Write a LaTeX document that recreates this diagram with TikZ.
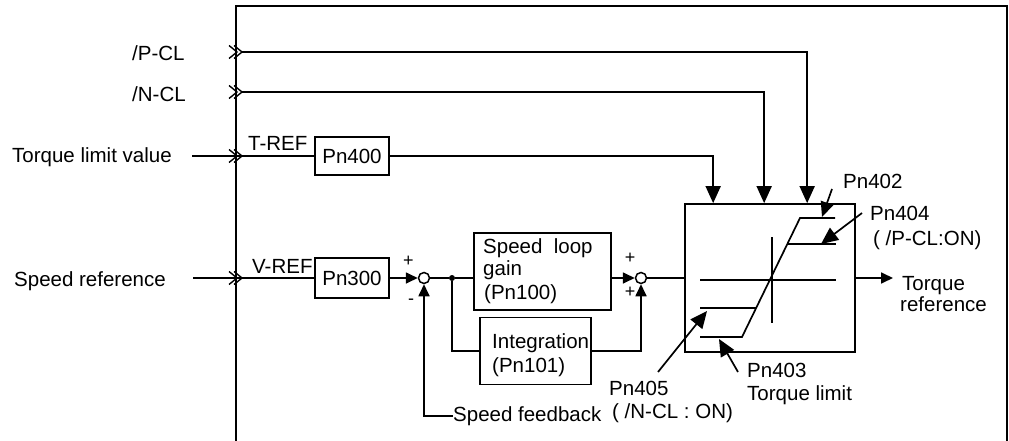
\documentclass[tikz,border=0pt]{standalone}
\usepackage{fontspec}
\setmainfont{Liberation Sans}
\usetikzlibrary{arrows.meta}
\begin{document}
\begin{tikzpicture}[x=1pt,y=-1pt,
  every node/.style={font=\fontsize{20.5}{23}\selectfont},
  ln/.style={line width=1.7pt},
  blk/.style={draw,line width=1.7pt,inner sep=0pt},
  lbl/.style={inner sep=0pt},
  arrS/.style={ln,-{Triangle[length=12pt,width=11pt]}},
  arrM/.style={ln,-{Triangle[length=15pt,width=13pt]}},
  arrL/.style={ln,-{Triangle[length=17pt,width=15pt]}},
  sumnode/.style={draw,circle,line width=1.5pt,minimum size=11pt,inner sep=0pt},
  chev/.style={line width=1.4pt},
  sgn/.style={inner sep=0pt,font=\fontsize{18}{18}\selectfont},
  dchev/.pic={\draw[chev] (-8,-6.5)--(0,0)--(-8,6.5); \draw[chev] (-3,-6.5)--(5,0)--(-3,6.5);}]
\useasboundingbox (0,0) rectangle (1009,441);

% frame
\draw[ln] (236,441) -- (236,6) -- (1007,6) -- (1007,441);

% blocks
\node[blk,minimum width=74pt,minimum height=38pt] (pn400) at (352,156) {Pn400};
\node[blk,minimum width=74pt,minimum height=40pt] (pn300) at (352,278) {Pn300};
\node[sumnode] (sum1) at (424,278) {};
\node[circle,fill,inner sep=0pt,minimum size=6pt] (dot) at (452,278) {};
\node[blk,minimum width=137pt,minimum height=77pt] (gain) at (542.5,271.5) {};
\node[blk,minimum width=111pt,minimum height=67pt] (integ) at (535.5,351) {};
\node[sumnode] (sum2) at (641,278) {};
\node[blk,minimum width=170pt,minimum height=148pt] (lim) at (770,278) {};

% texts in blocks
\node[lbl,anchor=base west] (g1) at (483,253) {Speed\ \ loop};
\node[lbl,anchor=base west] (g2) at (483,275) {gain};
\node[lbl,anchor=base west] (g3) at (484,299) {(Pn100)};
\node[lbl,anchor=base west] (i1) at (492,348) {Integration};
\node[lbl,anchor=base west] (i2) at (492,372) {(Pn101)};

% left labels
\node[lbl,anchor=base west] (pcl) at (132,61) {/P-CL};
\node[lbl,anchor=base west] (ncl) at (132,102) {/N-CL};
\node[lbl,anchor=base west] (tlv) at (12,162) {Torque\ limit\ value};
\node[lbl,anchor=base west] (spr) at (14,286) {Speed reference};
\node[lbl,anchor=base west] (tref) at (248,150) {T-REF};
\node[lbl,anchor=base west] (vref) at (252,273) {V-REF};

% chevrons
\pic at (237,52) {dchev};
\pic at (237,92) {dchev};
\pic at (237,156) {dchev};
\pic at (237,278) {dchev};
\coordinate (cP) at (242,52);
\coordinate (cN) at (242,92);
\coordinate (cT) at (242,156);
\coordinate (cV) at (242,278);
\coordinate (tlvend) at (192,156);
\coordinate (sprend) at (193,278);

% connectors
\draw[ln] (tlvend) -- (cT);
\draw[ln] (sprend) -- (cV);
\draw[arrL] (cP) -| ([xshift=123pt]lim.north west);
\draw[arrL] (cN) -| ([xshift=80pt]lim.north west);
\draw[ln] (cT) -- (pn400.west);
\draw[arrL] (pn400.east) -| ([xshift=29pt]lim.north west);
\draw[ln] (cV) -- (pn300.west);
\draw[arrS] (pn300.east) -- (sum1.west);
\draw[ln] (sum1.east) -- (dot);
\draw[ln] (dot) -- (gain.west |- dot);
\draw[arrS] (gain.east |- sum2) -- (sum2.west);
\draw[ln] (dot) |- (integ.west);
\draw[arrS] (integ.east) -| (sum2.south);
\draw[ln] (sum2.east) -- (lim.west);
\coordinate (trqend) at (893,278);
\draw[arrS] (lim.east) -- (trqend);

% feedback
\node[lbl,anchor=west] (fb) at (453,416) {Speed feedback};
\draw[arrS] (fb.west) -| (sum1.south);

% signs
\node[sgn] (s1p) at (408.5,261) {+};
\node[sgn] (s1m) at (411,302) {-};
\node[sgn] (s2p) at (630,258.5) {+};
\node[sgn] (s2q) at (630,292.5) {+};

% limiter characteristic
\draw[ln] (700,280) -- (836,280);
\draw[ln] (772,237) -- (772,323);
\draw[ln] (835,218) -- (800,218) -- (742,337) -- (700,337);
\draw[ln] (788,244) -- (836,244);
\draw[ln] (700,308) -- (756,308);

% parameter labels
\node[lbl,anchor=base west] (p402) at (843,188) {Pn402};
\node[lbl,anchor=base west] (p404) at (870,220) {Pn404};
\node[lbl,anchor=base west] (p404b) at (873,245) {( /P-CL:ON)};
\node[lbl,anchor=base west] (p405) at (609,395) {Pn405};
\node[lbl,anchor=base west] (p405b) at (612,418) {( /N-CL : ON)};
\node[lbl,anchor=base west] (p403) at (747,377) {Pn403};
\node[lbl,anchor=base west] (p403b) at (747,400) {Torque limit};
\node[lbl,anchor=base west] (trq1) at (902,290) {Torque};
\node[lbl,anchor=base west] (trq2) at (900,311) {reference};

\coordinate (a402s) at (832,189);
\coordinate (a402e) at (822,217);
\coordinate (a404s) at (862,213);
\coordinate (a404e) at (821,244);
\coordinate (a405s) at (658,372);
\coordinate (a405e) at (707,311);
\coordinate (a403s) at (738,372);
\coordinate (a403e) at (719,339);
\draw[arrM] (a402s) -- (a402e);
\draw[arrL] (a404s) -- (a404e);
\draw[arrL] (a405s) -- (a405e);
\draw[arrL] (a403s) -- (a403e);
\end{tikzpicture}
\end{document}
